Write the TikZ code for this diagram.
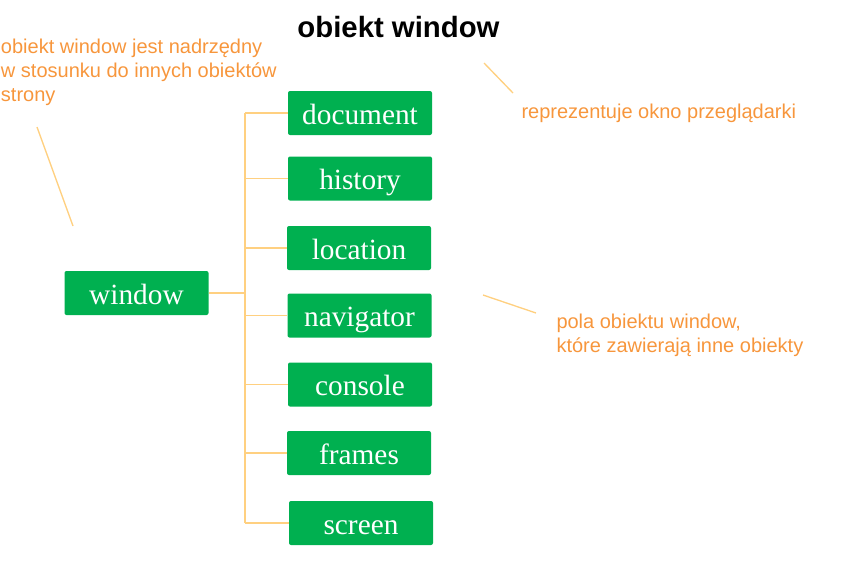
\documentclass[tikz,border=0pt]{standalone}
\usepackage{fontspec}
\setmainfont{Liberation Serif}
\newfontfamily\arialfont{Liberation Sans}
\definecolor{boxgreen}{RGB}{0,176,80}
\definecolor{noteorange}{RGB}{247,150,60}
\definecolor{linkyellow}{RGB}{255,208,128}

\tikzset{every picture/.style={line width=0.75pt}}
\tikzset{
  fieldbox/.style={fill=boxgreen, rounded corners=1.5pt, minimum width=108pt, minimum height=33pt,
    inner sep=0pt, text=white, text height=19pt, text depth=2.5pt, font=\fontsize{22}{26}\selectfont},
  branch/.style={draw=linkyellow, line width=1pt},
  note/.style={text=noteorange, inner sep=0pt, align=left, font=\arialfont\fontsize{15}{18}\selectfont}
}

\begin{document}
\begin{tikzpicture}[x=0.75pt,y=0.75pt,yscale=-1,xscale=1]
	\useasboundingbox (0,0) rectangle (852,578);
	
	%Shape: Rectangles
	\node [fieldbox] (win) at (136.5,293) {window};
	\node [fieldbox] (doc) at (360,113) {document};
	\node [fieldbox] (his) at (360,178.5) {history};
	\node [fieldbox] (loc) at (359,248) {location};
	\node [fieldbox] (nav) at (359.5,315.5) {navigator};
	\node [fieldbox] (con) at (360,384.5) {console};
	\node [fieldbox] (fra) at (359,453) {frames};
	\node [fieldbox] (scr) at (361,523) {screen};
	
	%Straight Lines
	\coordinate (trunk) at (245,293);
	\draw [branch] (win.east) -- (trunk);
	\draw [branch] (trunk |- doc.west) -- (trunk |- scr.west);
	\foreach \f in {doc,his,loc,nav,con,fra,scr}
	  \draw [branch] (trunk |- \f.west) -- (\f.west);
	
	% Text Node
	\node [anchor=base, inner sep=0pt, font=\arialfont\bfseries\fontsize{22}{26}\selectfont] (title) at (398.5,37) {obiekt window};
	% Text Node
	\node [note, anchor=north west] (parentnote) at (0.5,38.5) {obiekt window jest nadrzędny\\w stosunku do innych obiektów\\strony};
	% Text Node
	\node [note, anchor=base west] (browsernote) at (521,118) {reprezentuje okno przeglądarki};
	% Text Node
	\node [note, anchor=north west] (fieldnote) at (556,313.5) {pola obiektu window,\\które zawierają inne obiekty};
	
	%Straight Lines (leaders)
	\coordinate (pa) at (37,127);
	\coordinate (pb) at (73,226);
	\coordinate (ba) at (484,63);
	\coordinate (bb) at (513,93);
	\coordinate (fa) at (483,295);
	\coordinate (fb) at (536,313);
	\draw [branch] (pa) -- (pb);
	\draw [branch] (ba) -- (bb);
	\draw [branch] (fa) -- (fb);
\end{tikzpicture}
\end{document}
